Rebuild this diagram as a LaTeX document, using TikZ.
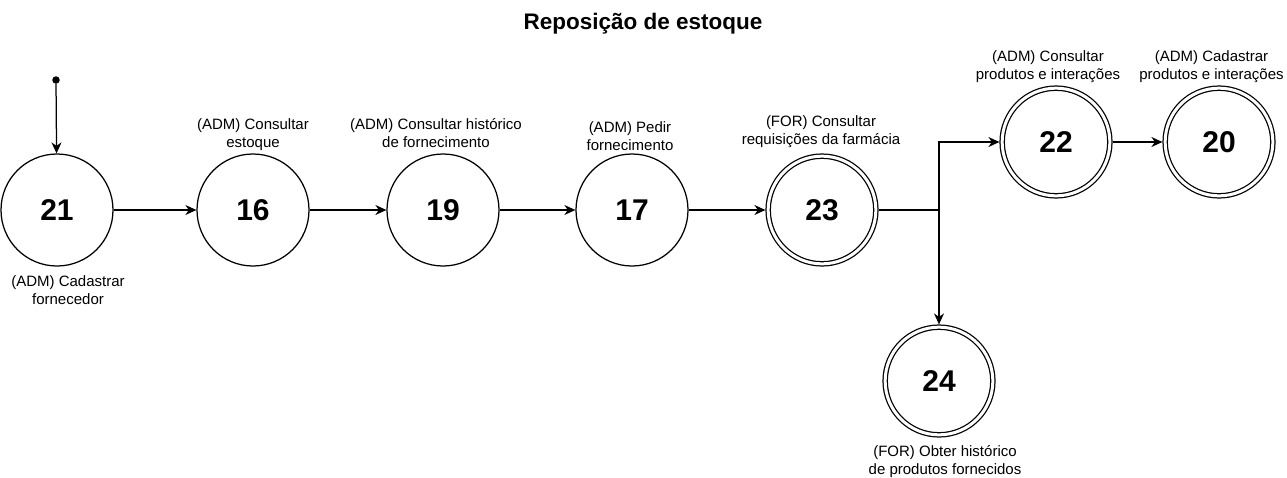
\documentclass[tikz,border=0pt]{standalone}
\usepackage{fontspec}
\setmainfont{Liberation Sans}
\usetikzlibrary{arrows.meta, positioning}

\begin{document}
\begin{tikzpicture}[x=1pt, y=-1pt,
    etapa/.style={circle, draw, line width=1.25pt, minimum size=112pt, inner sep=0pt,
      font=\bfseries\fontsize{30}{36}\selectfont},
    etapafim/.style={etapa, double, double distance=3pt, minimum size=107.7pt, outer sep=2.75pt},
    lbl/.style={font=\fontsize{15}{18}\selectfont, align=center, inner sep=1pt},
    seta/.style={line width=1.25pt, -{Stealth[length=11pt, width=10pt, inset=3.5pt]}}]
    \useasboundingbox (0,0) rectangle (1287,477);
    \node (titulo) at (643,29) [anchor=base] {\bfseries\fontsize{22.5}{27}\selectfont Reposição de estoque};

    \node (inicio) at (56,80) [circle, fill=black, inner sep=0pt, minimum size=7.5pt] {};
    \node (n21) at (57,210) [etapa] {21};
    \node (n16) at (253,210) [etapa] {16};
    \node (n19) at (443,210) [etapa] {19};
    \node (n17) at (632,210) [etapa] {17};
    \node (n23) at (822,210) [etapafim] {23};
    \node (n22) at (1056,142) [etapafim] {22};
    \node (n20) at (1219,142) [etapafim] {20};
    \node (n24) at (939,381) [etapafim] {24};
    \coordinate (juncao) at (939,210);

    \node (l21) [lbl, below=8pt of n21, xshift=11pt] {(ADM) Cadastrar\\fornecedor};
    \node (l16) [lbl, above=2pt of n16] {(ADM) Consultar\\estoque};
    \node (l19) [lbl, above=5pt of n19, xshift=-7pt] {(ADM) Consultar histórico\\de fornecimento};
    \node (l17) [lbl, above=2pt of n17, xshift=-2pt] {(ADM) Pedir\\fornecimento};
    \node (l23) [lbl, above=5pt of n23, xshift=-1pt] {(FOR) Consultar\\requisições da farmácia};
    \node (l22) [lbl, above=2pt of n22, xshift=-8pt] {(ADM) Consultar\\produtos e interações};
    \node (l20) [lbl, above=2pt of n20, xshift=-7.5pt] {(ADM) Cadastrar\\produtos e interações};
    \node (l24) [lbl, below=7pt of n24, xshift=6pt] {(FOR) Obter histórico\\de produtos fornecidos};

    \draw[seta] (inicio) -- (n21);
    \draw[seta] (n21) -- (n16);
    \draw[seta] (n16) -- (n19);
    \draw[seta] (n19) -- (n17);
    \draw[seta] (n17) -- (n23);
    \draw[line width=1.25pt] (n23) -- (juncao);
    \draw[seta] (juncao) |- (n22);
    \draw[seta] (juncao) -- (n24);
    \draw[seta] (n22) -- (n20);
\end{tikzpicture}
\end{document}
